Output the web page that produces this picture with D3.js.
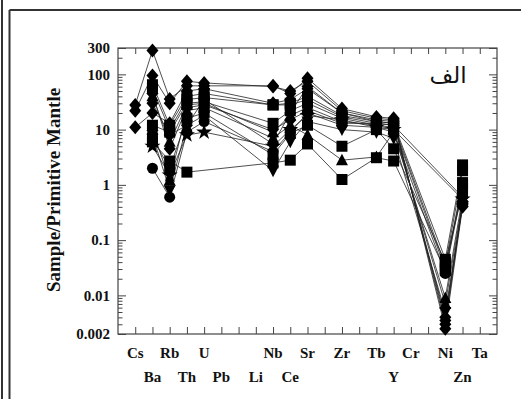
<!DOCTYPE html>
<html><head><meta charset="utf-8">
<script src="https://cdn.jsdelivr.net/npm/d3@7"></script>
<style>html,body{margin:0;background:#fff}svg{display:block}</style>
</head><body><svg id="chart" width="521" height="399"></svg>
<script>
/* spider diagram, normalised to primitive mantle */
// x axis slots 1..21 (blank = unlabeled tick)
var axisLabels = ["Cs","Ba","Rb","Th","U","Pb","","Li","Nb","Ce","Sr","","Zr","","Tb","Y","Cr","","Ni","Zn","Ta"];
// elements that carry data, same order as the series arrays
var elements = ["Cs","Ba","Rb","Th","U","Nb","Ce","Sr","Zr","Tb","Y","Ni","Zn"];
var yTickValues = [0.002, 0.01, 0.1, 1, 10, 100, 300];
var yTickLabels = ["0.002","0.01","0.1","1","10","100","300"];

var s1  = [28, 270, 36, 62, 62, 62, 45, 85, 24, 17, 16, 0.0025, 0.4];
var s2  = [22, 95, 30, 75, 70, 60, 50, 75, 22, 16, 15, 0.003, 0.45];
var s3  = [11, 20, 13, 50, 55, 30, 35, 55, 20, 15, 14, 0.0035, 0.5];
var s4  = [null, 65, 12, 40, 45, 28, 30, 40, 18, 14, 13, 0.045, 2.3];
var s5  = [null, 55, 10, 35, 38, 28, 28, 35, 17, 13, 12, 0.035, 1.8];
var s6  = [null, 12, 9, 30, 32, 13, 22, 30, 16, 12, 11, 0.03, 1.1];
var s7  = [null, 6, 2.7, 1.7, null, 2.5, 2.8, 5.5, 1.25, 3.1, 2.7, 0.028, 1.0];
var s8  = [null, 10, 1.2, 22, 25, 7, 12, 8, 2.8, 3.2, 9, 0.009, 0.6];
var s9  = [null, 40, 6, 28, 30, 9, 18, 25, 14, 12, 10, 0.007, 0.5];
var s10 = [null, 8, 0.8, 12, 18, 1.8, 6, 14, 10, 9, 7, 0.005, 0.4];
var s11 = [null, 2, 0.6, 9, 14, 4, 9, 20, 12, 11, 9, 0.025, 0.9];
var s12 = [null, 5, 1.5, 8, 9, 5, 10, 18, 15, 11, 10, null, 0.55];
var s13 = [null, 45, 4.5, 25, 28, 10, 15, 22, 13, 13, 12, null, 0.6];
var s14 = [null, 30, 8, 12, 35, 5.5, 20, 60, 20, 14, 13, 0.004, 0.45];
var s15 = [null, 7, 2, 16, 20, 3.5, 8.5, 12, 5, 10, 4.5, 0.04, 0.7];

(function () {
  var series = [
    { v: s1, shape: 'diamond' }, { v: s2, shape: 'diamond' }, { v: s3, shape: 'diamond' },
    { v: s4, shape: 'square' }, { v: s5, shape: 'square' }, { v: s6, shape: 'square' },
    { v: s7, shape: 'square' }, { v: s8, shape: 'triangle' }, { v: s9, shape: 'triangle' },
    { v: s10, shape: 'triDown' }, { v: s11, shape: 'circle' }, { v: s12, shape: 'star' },
    { v: s13, shape: 'diamond' }, { v: s14, shape: 'diamond' }, { v: s15, shape: 'square' }
  ];
  var SHAPES = {
    diamond: { draw: function (c) { c.moveTo(0, -7); c.lineTo(6, 0); c.lineTo(0, 7); c.lineTo(-6, 0); c.closePath(); } },
    square: { draw: function (c) { c.rect(-5.5, -5.5, 11, 11); } },
    triangle: { draw: function (c) { c.moveTo(0, -6.5); c.lineTo(6, 5); c.lineTo(-6, 5); c.closePath(); } },
    triDown: { draw: function (c) { c.moveTo(0, 6.5); c.lineTo(6, -5); c.lineTo(-6, -5); c.closePath(); } },
    circle: { draw: function (c) { c.moveTo(5.5, 0); c.arc(0, 0, 5.5, 0, 2 * Math.PI); } },
    star: d3.symbolStar
  };

  var L = 118, R = 497, T = 48, B = 334;
  var svg = d3.select('#chart');
  var x = d3.scaleLinear().domain([0, 22]).range([L, R]);
  var y = d3.scaleLog().domain([0.002, 300]).range([B, T]);
  var serif = '"Liberation Serif", "Times New Roman", serif';

  // frame lines
  var fr = svg.append('g').attr('stroke', '#333').attr('stroke-width', 2);
  fr.append('line').attr('x1', 2).attr('x2', 2).attr('y1', 0).attr('y2', 399);
  fr.append('line').attr('x1', 9.5).attr('x2', 9.5).attr('y1', 10).attr('y2', 399);
  fr.append('line').attr('x1', 9.5).attr('x2', 521).attr('y1', 10).attr('y2', 10);

  // minor log ticks
  var minors = [];
  for (var e = -3; e <= 2; e++) for (var m = 2; m <= 9; m++) { var v = m * Math.pow(10, e); if (v > 0.002 && v < 300) minors.push(v); }

  function style(g) { g.select('.domain').remove(); g.selectAll('line').attr('stroke', '#444'); }
  svg.append('g').attr('transform', 'translate(' + L + ',0)')
    .call(d3.axisLeft(y).tickValues(minors).tickSizeInner(-4.5).tickSizeOuter(0).tickFormat('')).call(style);
  svg.append('g').attr('transform', 'translate(' + R + ',0)')
    .call(d3.axisRight(y).tickValues(minors).tickSizeInner(-4.5).tickSizeOuter(0).tickFormat('')).call(style);
  svg.append('g').attr('transform', 'translate(' + R + ',0)')
    .call(d3.axisRight(y).tickValues(yTickValues).tickSizeInner(-8).tickSizeOuter(0).tickFormat('')).call(style);
  var ya = svg.append('g').attr('transform', 'translate(' + L + ',0)')
    .call(d3.axisLeft(y).tickValues(yTickValues).tickSizeInner(-8).tickSizeOuter(0).tickPadding(8)
      .tickFormat(function (d, i) { return yTickLabels[i]; })).call(style);
  ya.selectAll('text').attr('font-family', serif).attr('font-weight', 'bold').attr('font-size', 15).attr('fill', '#111');

  var ks = d3.range(1, 22);
  svg.append('g').attr('transform', 'translate(0,' + B + ')')
    .call(d3.axisBottom(x).tickValues(ks).tickSizeInner(-7).tickSizeOuter(0).tickFormat('')).call(style);
  svg.append('g').attr('transform', 'translate(0,' + T + ')')
    .call(d3.axisTop(x).tickValues(ks).tickSizeInner(-6).tickSizeOuter(0).tickFormat('')).call(style);

  svg.append('rect').attr('x', L).attr('y', T).attr('width', R - L).attr('height', B - T)
    .attr('fill', 'none').attr('stroke', '#444').attr('stroke-width', 1.2);

  // element labels, staggered in two rows
  svg.append('g').selectAll('text').data(axisLabels).enter().append('text')
    .attr('x', function (d, i) { return x(i + 1); })
    .attr('y', function (d, i) { return i % 2 === 0 ? 358 : 382; })
    .attr('text-anchor', 'middle').attr('font-family', serif).attr('font-weight', 'bold')
    .attr('font-size', 15).attr('fill', '#111').text(function (d) { return d; });

  svg.append('text').attr('transform', 'translate(60,190) rotate(-90)').attr('text-anchor', 'middle')
    .attr('font-family', serif).attr('font-weight', 'bold').attr('font-size', 19).attr('fill', '#111')
    .text('Sample/Primitive Mantle');

  svg.append('text').attr('x', 448).attr('y', 83).attr('text-anchor', 'middle')
    .attr('font-family', '"DejaVu Sans", sans-serif').attr('font-size', 23).attr('fill', '#111').text('الف');

  // series
  function pts(vals) {
    var out = [];
    vals.forEach(function (v, i) { if (v != null) out.push([x(axisLabels.indexOf(elements[i]) + 1), y(v)]); });
    return out;
  }
  var line = d3.line();
  var gl = svg.append('g').attr('fill', 'none').attr('stroke', '#222').attr('stroke-width', 0.8);
  series.forEach(function (s) { gl.append('path').attr('d', line(pts(s.v))); });
  var gm = svg.append('g').attr('fill', '#000');
  series.forEach(function (s) {
    var sym = d3.symbol().type(SHAPES[s.shape]).size(s.shape === 'star' ? 80 : 64);
    gm.selectAll(null).data(pts(s.v)).enter().append('path')
      .attr('transform', function (p) { return 'translate(' + p[0] + ',' + p[1] + ')'; })
      .attr('d', sym);
  });
})();
</script>
</body></html>
